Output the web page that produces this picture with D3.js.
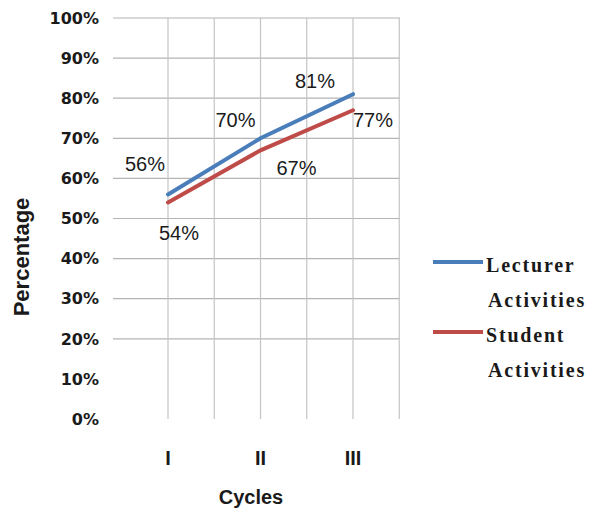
<!DOCTYPE html>
<html>
<head>
<meta charset="utf-8">
<script src="https://cdn.jsdelivr.net/npm/d3@7"></script>
<style>
  html, body { margin: 0; padding: 0; background: #fff; }
  svg { display: block; }
</style>
</head>
<body>
<svg id="chart" width="590" height="512"></svg>
<script>
// ---- data ----
const categories = ["I", "II", "III"];
const lecturerValues = [56, 70, 81];
const studentValues = [54, 67, 77];
const seriesNames = ["Lecturer Activities", "Student Activities"];
const yTicks = [0, 10, 20, 30, 40, 50, 60, 70, 80, 90, 100];

// ---- layout / style ----
const colors = ["#4a7ebb", "#be4b48"];
const lecturerLabelOffsets = [[-23, -23], [-25, -11], [-38, -6]];
const studentLabelOffsets = [[11, 38], [36, 25], [20, 17]];

const svg = d3.select("#chart");
const plot = { left: 113, right: 400, top: 18, bottom: 419 };

const y = d3.scaleLinear().domain([0, 100]).range([plot.bottom, plot.top]);
const xIdx = d3.scaleLinear().domain([0, 2]).range([168, 353]);
const x = d3.scalePoint().domain(categories).range([xIdx(0), xIdx(2)]);

// horizontal gridlines (reference shows them from 20% up)
svg.append("g").selectAll("line")
  .data(yTicks.filter(t => t >= 20))
  .join("line")
  .attr("x1", plot.left).attr("x2", plot.right)
  .attr("y1", d => y(d)).attr("y2", d => y(d))
  .attr("stroke", "#b4b4b4").attr("stroke-width", 1.2);

// vertical gridlines
const vGrid = d3.range(0, 3, 0.5);
svg.append("g").selectAll("line")
  .data(vGrid)
  .join("line")
  .attr("x1", d => xIdx(d)).attr("x2", d => xIdx(d))
  .attr("y1", plot.top).attr("y2", plot.bottom)
  .attr("stroke", "#c4c4c4").attr("stroke-width", 1.2);

// y-axis tick labels
svg.append("g").selectAll("text")
  .data(yTicks)
  .join("text")
  .attr("x", 99).attr("y", d => y(d))
  .attr("dy", "0.36em")
  .attr("text-anchor", "end")
  .attr("font-family", "DejaVu Sans")
  .attr("font-weight", "bold")
  .attr("font-size", 16)
  .attr("fill", "#1a1a1a")
  .text(d => d + "%");

// x-axis category labels
svg.append("g").selectAll("text")
  .data(categories)
  .join("text")
  .attr("x", d => x(d)).attr("y", 465)
  .attr("text-anchor", "middle")
  .attr("font-family", "Liberation Sans, Arial, sans-serif")
  .attr("font-weight", "bold")
  .attr("font-size", 20)
  .attr("fill", "#1a1a1a")
  .text(d => d);

// axis titles
svg.append("text")
  .attr("x", 251).attr("y", 504)
  .attr("text-anchor", "middle")
  .attr("font-family", "Liberation Sans, Arial, sans-serif")
  .attr("font-weight", "bold")
  .attr("font-size", 20)
  .attr("fill", "#1a1a1a")
  .text("Cycles");

svg.append("text")
  .attr("transform", "translate(29,257) rotate(-90)")
  .attr("text-anchor", "middle")
  .attr("font-family", "Liberation Sans, Arial, sans-serif")
  .attr("font-weight", "bold")
  .attr("font-size", 22)
  .attr("fill", "#1a1a1a")
  .text("Percentage");

// lines
const line = d3.line()
  .x((d, i) => x(categories[i]))
  .y(d => y(d));

const series = [lecturerValues, studentValues];
svg.append("g").selectAll("path")
  .data(series)
  .join("path")
  .attr("d", d => line(d))
  .attr("fill", "none")
  .attr("stroke", (d, i) => colors[i])
  .attr("stroke-width", 4)
  .attr("stroke-linecap", "round");

// data labels
const labelData = [];
lecturerValues.forEach((v, i) => labelData.push({ v, i, off: lecturerLabelOffsets[i] }));
studentValues.forEach((v, i) => labelData.push({ v, i, off: studentLabelOffsets[i] }));
svg.append("g").selectAll("text")
  .data(labelData)
  .join("text")
  .attr("x", d => x(categories[d.i]) + d.off[0])
  .attr("y", d => y(d.v) + d.off[1])
  .attr("text-anchor", "middle")
  .attr("font-family", "Liberation Sans, Arial, sans-serif")
  .attr("font-size", 20)
  .attr("fill", "#1a1a1a")
  .text(d => d.v + "%");

// legend
const legend = svg.append("g").attr("font-family", "Liberation Serif, Times New Roman, serif")
  .attr("font-weight", "bold").attr("font-size", 20).attr("fill", "#1a1a1a");
const legendY = [262, 332];
seriesNames.forEach((name, i) => {
  const g = legend.append("g");
  g.append("line")
    .attr("x1", 433).attr("x2", 483)
    .attr("y1", legendY[i]).attr("y2", legendY[i])
    .attr("stroke", colors[i]).attr("stroke-width", 4);
  const words = name.split(" ");
  g.selectAll("text")
    .data(words)
    .join("text")
    .attr("x", (d, j) => j === 0 ? 486 : 488)
    .attr("y", (d, j) => legendY[i] + 10 + j * 35)
    .attr("letter-spacing", "1.8px")
    .text(d => d);
});
</script>
</body>
</html>
